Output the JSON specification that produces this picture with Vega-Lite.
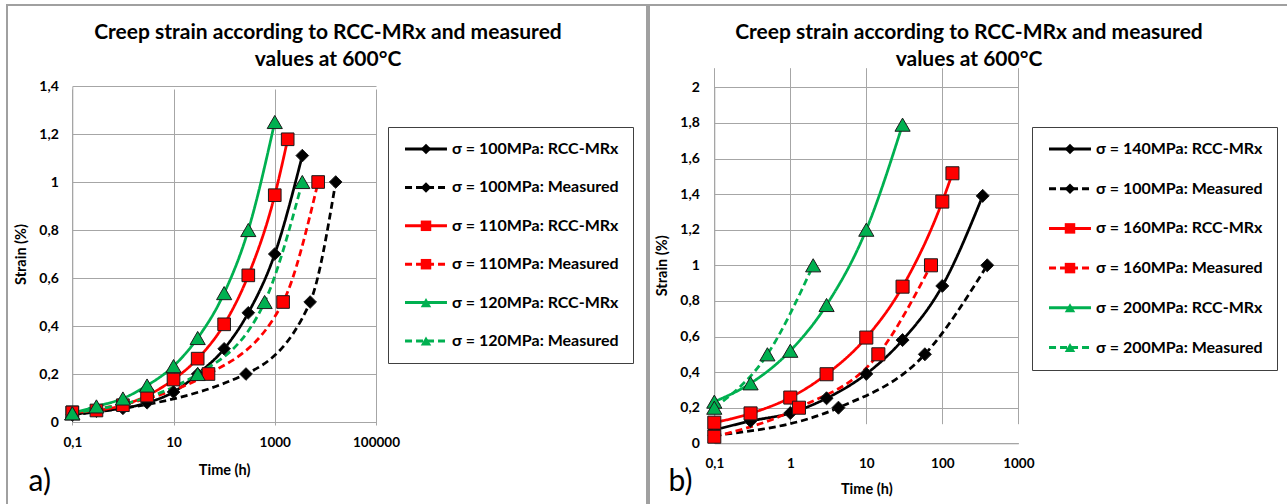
{
  "$schema": "https://vega.github.io/schema/vega-lite/v6.json",
  "autosize": {"type": "pad"},
  "padding": {"left": 6, "top": 4, "right": -3, "bottom": -3},
  "background": "white",
  "spacing": 0,
  "config": {
    "view": {"stroke": "#a0a0a0", "strokeWidth": 2},
    "font": "Lato"
  },
  "datasets": {
    "creep": [
      {"panel": "a", "k": 1, "series": "σ = 100MPa: RCC-MRx", "time": 0.1, "strain": 0.03},
      {"panel": "a", "k": 1, "series": "σ = 100MPa: RCC-MRx", "time": 0.3, "strain": 0.045},
      {"panel": "a", "k": 1, "series": "σ = 100MPa: RCC-MRx", "time": 1, "strain": 0.057},
      {"panel": "a", "k": 1, "series": "σ = 100MPa: RCC-MRx", "time": 3, "strain": 0.08},
      {"panel": "a", "k": 1, "series": "σ = 100MPa: RCC-MRx", "time": 10, "strain": 0.125},
      {"panel": "a", "k": 1, "series": "σ = 100MPa: RCC-MRx", "time": 30, "strain": 0.2},
      {"panel": "a", "k": 1, "series": "σ = 100MPa: RCC-MRx", "time": 100, "strain": 0.305},
      {"panel": "a", "k": 1, "series": "σ = 100MPa: RCC-MRx", "time": 300, "strain": 0.455},
      {"panel": "a", "k": 1, "series": "σ = 100MPa: RCC-MRx", "time": 1000, "strain": 0.7},
      {"panel": "a", "k": 1, "series": "σ = 100MPa: RCC-MRx", "time": 3500, "strain": 1.11},
      {"panel": "a", "k": 2, "series": "σ = 100MPa: Measured", "time": 0.1, "strain": 0.03},
      {"panel": "a", "k": 2, "series": "σ = 100MPa: Measured", "time": 270, "strain": 0.2},
      {"panel": "a", "k": 2, "series": "σ = 100MPa: Measured", "time": 5000, "strain": 0.5},
      {"panel": "a", "k": 2, "series": "σ = 100MPa: Measured", "time": 16000, "strain": 1.0},
      {"panel": "a", "k": 3, "series": "σ = 110MPa: RCC-MRx", "time": 0.1, "strain": 0.04},
      {"panel": "a", "k": 3, "series": "σ = 110MPa: RCC-MRx", "time": 0.3, "strain": 0.048},
      {"panel": "a", "k": 3, "series": "σ = 110MPa: RCC-MRx", "time": 1, "strain": 0.07},
      {"panel": "a", "k": 3, "series": "σ = 110MPa: RCC-MRx", "time": 3, "strain": 0.11},
      {"panel": "a", "k": 3, "series": "σ = 110MPa: RCC-MRx", "time": 10, "strain": 0.177},
      {"panel": "a", "k": 3, "series": "σ = 110MPa: RCC-MRx", "time": 30, "strain": 0.264},
      {"panel": "a", "k": 3, "series": "σ = 110MPa: RCC-MRx", "time": 100, "strain": 0.407},
      {"panel": "a", "k": 3, "series": "σ = 110MPa: RCC-MRx", "time": 300, "strain": 0.611},
      {"panel": "a", "k": 3, "series": "σ = 110MPa: RCC-MRx", "time": 1000, "strain": 0.945},
      {"panel": "a", "k": 3, "series": "σ = 110MPa: RCC-MRx", "time": 1800, "strain": 1.178},
      {"panel": "a", "k": 4, "series": "σ = 110MPa: Measured", "time": 0.1, "strain": 0.04},
      {"panel": "a", "k": 4, "series": "σ = 110MPa: Measured", "time": 49, "strain": 0.2},
      {"panel": "a", "k": 4, "series": "σ = 110MPa: Measured", "time": 1460, "strain": 0.5},
      {"panel": "a", "k": 4, "series": "σ = 110MPa: Measured", "time": 7200, "strain": 1.0},
      {"panel": "a", "k": 5, "series": "σ = 120MPa: RCC-MRx", "time": 0.1, "strain": 0.036},
      {"panel": "a", "k": 5, "series": "σ = 120MPa: RCC-MRx", "time": 0.3, "strain": 0.065},
      {"panel": "a", "k": 5, "series": "σ = 120MPa: RCC-MRx", "time": 1, "strain": 0.098},
      {"panel": "a", "k": 5, "series": "σ = 120MPa: RCC-MRx", "time": 3, "strain": 0.152},
      {"panel": "a", "k": 5, "series": "σ = 120MPa: RCC-MRx", "time": 10, "strain": 0.233},
      {"panel": "a", "k": 5, "series": "σ = 120MPa: RCC-MRx", "time": 30, "strain": 0.35},
      {"panel": "a", "k": 5, "series": "σ = 120MPa: RCC-MRx", "time": 100, "strain": 0.537},
      {"panel": "a", "k": 5, "series": "σ = 120MPa: RCC-MRx", "time": 300, "strain": 0.8},
      {"panel": "a", "k": 5, "series": "σ = 120MPa: RCC-MRx", "time": 1000, "strain": 1.25},
      {"panel": "a", "k": 6, "series": "σ = 120MPa: Measured", "time": 0.1, "strain": 0.036},
      {"panel": "a", "k": 6, "series": "σ = 120MPa: Measured", "time": 30, "strain": 0.2},
      {"panel": "a", "k": 6, "series": "σ = 120MPa: Measured", "time": 630, "strain": 0.5},
      {"panel": "a", "k": 6, "series": "σ = 120MPa: Measured", "time": 3500, "strain": 1.0},

      {"panel": "b", "k": 1, "series": "σ = 140MPa: RCC-MRx", "time": 0.1, "strain": 0.075},
      {"panel": "b", "k": 1, "series": "σ = 140MPa: RCC-MRx", "time": 0.3, "strain": 0.125},
      {"panel": "b", "k": 1, "series": "σ = 140MPa: RCC-MRx", "time": 1, "strain": 0.17},
      {"panel": "b", "k": 1, "series": "σ = 140MPa: RCC-MRx", "time": 3, "strain": 0.253},
      {"panel": "b", "k": 1, "series": "σ = 140MPa: RCC-MRx", "time": 10, "strain": 0.39},
      {"panel": "b", "k": 1, "series": "σ = 140MPa: RCC-MRx", "time": 30, "strain": 0.58},
      {"panel": "b", "k": 1, "series": "σ = 140MPa: RCC-MRx", "time": 100, "strain": 0.884},
      {"panel": "b", "k": 1, "series": "σ = 140MPa: RCC-MRx", "time": 340, "strain": 1.39},
      {"panel": "b", "k": 2, "series": "σ = 100MPa: Measured", "time": 0.1, "strain": 0.045},
      {"panel": "b", "k": 2, "series": "σ = 100MPa: Measured", "time": 4.3, "strain": 0.2},
      {"panel": "b", "k": 2, "series": "σ = 100MPa: Measured", "time": 59, "strain": 0.5},
      {"panel": "b", "k": 2, "series": "σ = 100MPa: Measured", "time": 390, "strain": 1.0},
      {"panel": "b", "k": 3, "series": "σ = 160MPa: RCC-MRx", "time": 0.1, "strain": 0.116},
      {"panel": "b", "k": 3, "series": "σ = 160MPa: RCC-MRx", "time": 0.3, "strain": 0.168},
      {"panel": "b", "k": 3, "series": "σ = 160MPa: RCC-MRx", "time": 1, "strain": 0.257},
      {"panel": "b", "k": 3, "series": "σ = 160MPa: RCC-MRx", "time": 3, "strain": 0.388},
      {"panel": "b", "k": 3, "series": "σ = 160MPa: RCC-MRx", "time": 10, "strain": 0.594},
      {"panel": "b", "k": 3, "series": "σ = 160MPa: RCC-MRx", "time": 30, "strain": 0.88},
      {"panel": "b", "k": 3, "series": "σ = 160MPa: RCC-MRx", "time": 100, "strain": 1.358},
      {"panel": "b", "k": 3, "series": "σ = 160MPa: RCC-MRx", "time": 136, "strain": 1.517},
      {"panel": "b", "k": 4, "series": "σ = 160MPa: Measured", "time": 0.1, "strain": 0.037},
      {"panel": "b", "k": 4, "series": "σ = 160MPa: Measured", "time": 1.3, "strain": 0.2},
      {"panel": "b", "k": 4, "series": "σ = 160MPa: Measured", "time": 14.4, "strain": 0.5},
      {"panel": "b", "k": 4, "series": "σ = 160MPa: Measured", "time": 71, "strain": 1.0},
      {"panel": "b", "k": 5, "series": "σ = 200MPa: RCC-MRx", "time": 0.1, "strain": 0.234},
      {"panel": "b", "k": 5, "series": "σ = 200MPa: RCC-MRx", "time": 0.3, "strain": 0.337},
      {"panel": "b", "k": 5, "series": "σ = 200MPa: RCC-MRx", "time": 1, "strain": 0.52},
      {"panel": "b", "k": 5, "series": "σ = 200MPa: RCC-MRx", "time": 3, "strain": 0.777},
      {"panel": "b", "k": 5, "series": "σ = 200MPa: RCC-MRx", "time": 10, "strain": 1.2},
      {"panel": "b", "k": 5, "series": "σ = 200MPa: RCC-MRx", "time": 30, "strain": 1.79},
      {"panel": "b", "k": 6, "series": "σ = 200MPa: Measured", "time": 0.1, "strain": 0.2},
      {"panel": "b", "k": 6, "series": "σ = 200MPa: Measured", "time": 0.5, "strain": 0.5},
      {"panel": "b", "k": 6, "series": "σ = 200MPa: Measured", "time": 2, "strain": 1.0}
    ]
  },
  "hconcat": [
    {
      "width": 640,
      "height": 501,
      "data": {"name": "creep"},
      "transform": [{"filter": "datum.panel === 'a'"}],
      "title": {
        "text": ["Creep strain according to RCC-MRx and measured", "values at 600°C"],
        "anchor": "middle", "frame": "group", "font": "Lato", "fontSize": 21, "fontWeight": "bold",
        "color": "#000000", "lineHeight": 27, "baseline": "alphabetic", "offset": -82, "dx": 1
      },
      "resolve": {"axis": {"x": "independent"}},
      "layer": [
        {
          "mark": {"type": "line", "interpolate": "monotone", "strokeWidth": 2.75},
          "encoding": {
            "x": {
              "field": "time", "type": "quantitative",
              "scale": {"type": "log", "domain": [0.1, 100000], "range": [65.3, 369], "nice": false},
              "axis": {
                "orient": "bottom", "offset": -84, "values": [0.1, 10, 1000, 100000],
                "labelExpr": "replace(format(datum.value, '~r'), '.', ',')",
                "title": "Time (h)", "titleFont": "Lato", "titleFontSize": 14.5, "titleFontWeight": "bold", "titleColor": "#000000", "titlePadding": 15,
                "labelFont": "Lato", "labelFontSize": 13.5, "labelFontWeight": "bold", "labelColor": "#000000", "labelPadding": 13,
                "ticks": false, "domain": true, "domainColor": "#a6a6a6", "domainWidth": 1,
                "grid": true, "gridColor": "#a6a6a6", "gridWidth": 1, "labelFlush": false, "labelOverlap": false
              }
            },
            "y": {
              "field": "strain", "type": "quantitative",
              "scale": {"domain": [0, 1.4], "range": [417, 81], "nice": false, "zero": false},
              "axis": {
                "orient": "left", "offset": -65.3, "values": [0, 0.2, 0.4, 0.6, 0.8, 1, 1.2, 1.4],
                "labelExpr": "replace(format(datum.value, '~r'), '.', ',')",
                "title": "Strain (%)", "titleFont": "Lato", "titleFontSize": 14.5, "titleFontWeight": "bold", "titleColor": "#000000", "titlePadding": 10,
                "labelFont": "Lato", "labelFontSize": 14, "labelFontWeight": "bold", "labelColor": "#000000", "labelPadding": 14,
                "ticks": false, "domain": true, "domainColor": "#a6a6a6", "domainWidth": 1,
                "grid": true, "gridColor": "#a6a6a6", "gridWidth": 1, "labelFlush": false, "labelOverlap": false
              }
            },
            "stroke": {
              "field": "series", "type": "nominal",
              "scale": {
                "domain": ["σ = 100MPa: RCC-MRx", "σ = 100MPa: Measured", "σ = 110MPa: RCC-MRx", "σ = 110MPa: Measured", "σ = 120MPa: RCC-MRx", "σ = 120MPa: Measured"],
                "range": ["#000000", "#000000", "#ff0000", "#ff0000", "#00b050", "#00b050"]
              },
              "legend": {
                "title": null, "orient": "none", "legendX": 381, "legendY": 122, "padding": 14,
                "strokeColor": "#404040", "symbolType": "M-4,0H4", "symbolSize": 110,
                "symbolStrokeWidth": 3, "symbolOffset": 16, "labelOffset": 18, "labelFont": "Lato",
                "labelFontSize": 16, "labelFontWeight": "bold", "labelColor": "#000000", "rowPadding": 22.4,
                "labelLimit": 400, "zindex": 1
              }
            },
            "strokeDash": {
              "field": "series", "type": "nominal",
              "scale": {
                "domain": ["σ = 100MPa: RCC-MRx", "σ = 100MPa: Measured", "σ = 110MPa: RCC-MRx", "σ = 110MPa: Measured", "σ = 120MPa: RCC-MRx", "σ = 120MPa: Measured"],
                "range": [[1, 0], [7, 4], [1, 0], [7, 4], [1, 0], [7, 4]]
              },
              "legend": {
                "title": null, "orient": "none", "legendX": 381, "legendY": 122, "padding": 14,
                "strokeColor": "#404040", "symbolType": "M-4,0H4", "symbolSize": 110,
                "symbolStrokeWidth": 3, "symbolOffset": 16, "labelOffset": 18, "labelFont": "Lato",
                "labelFontSize": 16, "labelFontWeight": "bold", "labelColor": "#000000", "rowPadding": 22.4,
                "labelLimit": 400, "zindex": 1
              }
            }
          }
        },
        {
          "mark": {"type": "point", "filled": true, "stroke": "#1a1a1a", "strokeWidth": 1, "opacity": 1},
          "encoding": {
            "x": {
              "field": "time", "type": "quantitative",
              "axis": {
                "orient": "top", "labels": false, "ticks": false, "domain": false, "grid": false,
                "title": "a)", "titleX": 21, "titleY": 485, "titleAngle": 0, "titleAlign": "left", "titleBaseline": "alphabetic",
                "titleFont": "Lato", "titleFontSize": 30, "titleFontWeight": "normal", "titleColor": "#000000"
              }
            },
            "y": {"field": "strain", "type": "quantitative"},
            "size": {"condition": {"test": "datum.k >= 5", "value": 230}, "value": 160},
            "fill": {
              "field": "series", "type": "nominal", "sort": {"field": "k", "op": "min"},
              "scale": {"range": ["#000000", "#000000", "#ff0000", "#ff0000", "#00b050", "#00b050"]},
              "legend": {
                "title": null, "orient": "none", "legendX": 381, "legendY": 122, "padding": 14,
                "symbolSize": 110, "symbolStrokeColor": "#1a1a1a", "symbolStrokeWidth": 1, "symbolOffset": 16, "labelOffset": 18,
                "labelFont": "Lato", "labelFontSize": 16, "labelFontWeight": "bold", "labelOpacity": 0, "rowPadding": 22.4,
                "labelLimit": 400, "zindex": 2
              }
            },
            "shape": {
              "field": "series", "type": "nominal", "sort": {"field": "k", "op": "min"},
              "scale": {"range": ["diamond", "diamond", "square", "square", "triangle-up", "triangle-up"]},
              "legend": {
                "title": null, "orient": "none", "legendX": 381, "legendY": 122, "padding": 14,
                "symbolSize": 110, "symbolStrokeColor": "#1a1a1a", "symbolStrokeWidth": 1, "symbolOffset": 16, "labelOffset": 18,
                "labelFont": "Lato", "labelFontSize": 16, "labelFontWeight": "bold", "labelOpacity": 0, "rowPadding": 22.4,
                "labelLimit": 400, "zindex": 2
              }
            }
          }
        }
      ]
    },
    {
      "width": 640,
      "height": 501,
      "data": {"name": "creep"},
      "transform": [{"filter": "datum.panel === 'b'"}],
      "title": {
        "text": ["Creep strain according to RCC-MRx and measured", "values at 600°C"],
        "anchor": "middle", "frame": "group", "font": "Lato", "fontSize": 21, "fontWeight": "bold",
        "color": "#000000", "lineHeight": 27, "baseline": "alphabetic", "offset": -82
      },
      "resolve": {"axis": {"x": "independent"}},
      "layer": [
        {
          "mark": {"type": "line", "interpolate": "monotone", "strokeWidth": 2.75},
          "encoding": {
            "x": {
              "field": "time", "type": "quantitative",
              "scale": {"type": "log", "domain": [0.1, 1000], "range": [65.3, 369.3], "nice": false},
              "axis": {
                "orient": "bottom", "offset": -62.7, "values": [0.1, 1, 10, 100, 1000],
                "labelExpr": "replace(format(datum.value, '~r'), '.', ',')",
                "title": "Time (h)", "titleFont": "Lato", "titleFontSize": 14.5, "titleFontWeight": "bold", "titleColor": "#000000", "titlePadding": 13,
                "labelFont": "Lato", "labelFontSize": 13.5, "labelFontWeight": "bold", "labelColor": "#000000", "labelPadding": 13,
                "ticks": false, "domain": true, "domainColor": "#a6a6a6", "domainWidth": 1,
                "grid": true, "gridColor": "#a6a6a6", "gridWidth": 1, "labelFlush": false, "labelOverlap": false
              }
            },
            "y": {
              "field": "strain", "type": "quantitative",
              "scale": {"domain": [0, 2], "range": [438.3, 82.3], "nice": false, "zero": false},
              "axis": {
                "orient": "left", "offset": -65.3, "values": [0, 0.2, 0.4, 0.6, 0.8, 1, 1.2, 1.4, 1.6, 1.8, 2],
                "labelExpr": "replace(format(datum.value, '~r'), '.', ',')",
                "title": "Strain (%)", "titleFont": "Lato", "titleFontSize": 14.5, "titleFontWeight": "bold", "titleColor": "#000000", "titlePadding": 10,
                "labelFont": "Lato", "labelFontSize": 14, "labelFontWeight": "bold", "labelColor": "#000000", "labelPadding": 15,
                "ticks": false, "domain": true, "domainColor": "#a6a6a6", "domainWidth": 1,
                "grid": true, "gridColor": "#a6a6a6", "gridWidth": 1, "labelFlush": false, "labelOverlap": false
              }
            },
            "stroke": {
              "field": "series", "type": "nominal",
              "scale": {
                "domain": ["σ = 140MPa: RCC-MRx", "σ = 100MPa: Measured", "σ = 160MPa: RCC-MRx", "σ = 160MPa: Measured", "σ = 200MPa: RCC-MRx", "σ = 200MPa: Measured"],
                "range": ["#000000", "#000000", "#ff0000", "#ff0000", "#00b050", "#00b050"]
              },
              "legend": {
                "title": null, "orient": "none", "legendX": 383, "legendY": 122, "padding": 14,
                "strokeColor": "#404040", "symbolType": "M-4,0H4", "symbolSize": 110,
                "symbolStrokeWidth": 3, "symbolOffset": 16, "labelOffset": 18, "labelFont": "Lato",
                "labelFontSize": 16, "labelFontWeight": "bold", "labelColor": "#000000", "rowPadding": 23.7,
                "labelLimit": 400, "zindex": 1
              }
            },
            "strokeDash": {
              "field": "series", "type": "nominal",
              "scale": {
                "domain": ["σ = 140MPa: RCC-MRx", "σ = 100MPa: Measured", "σ = 160MPa: RCC-MRx", "σ = 160MPa: Measured", "σ = 200MPa: RCC-MRx", "σ = 200MPa: Measured"],
                "range": [[1, 0], [7, 4], [1, 0], [7, 4], [1, 0], [7, 4]]
              },
              "legend": {
                "title": null, "orient": "none", "legendX": 383, "legendY": 122, "padding": 14,
                "strokeColor": "#404040", "symbolType": "M-4,0H4", "symbolSize": 110,
                "symbolStrokeWidth": 3, "symbolOffset": 16, "labelOffset": 18, "labelFont": "Lato",
                "labelFontSize": 16, "labelFontWeight": "bold", "labelColor": "#000000", "rowPadding": 23.7,
                "labelLimit": 400, "zindex": 1
              }
            }
          }
        },
        {
          "mark": {"type": "point", "filled": true, "stroke": "#1a1a1a", "strokeWidth": 1, "opacity": 1},
          "encoding": {
            "x": {
              "field": "time", "type": "quantitative",
              "axis": {
                "orient": "top", "labels": false, "ticks": false, "domain": false, "grid": false,
                "title": "b)", "titleX": 19, "titleY": 485, "titleAngle": 0, "titleAlign": "left", "titleBaseline": "alphabetic",
                "titleFont": "Lato", "titleFontSize": 30, "titleFontWeight": "normal", "titleColor": "#000000"
              }
            },
            "y": {"field": "strain", "type": "quantitative"},
            "size": {"condition": {"test": "datum.k >= 5", "value": 230}, "value": 170},
            "fill": {
              "field": "series", "type": "nominal", "sort": {"field": "k", "op": "min"},
              "scale": {"range": ["#000000", "#000000", "#ff0000", "#ff0000", "#00b050", "#00b050"]},
              "legend": {
                "title": null, "orient": "none", "legendX": 383, "legendY": 122, "padding": 14,
                "symbolSize": 110, "symbolStrokeColor": "#1a1a1a", "symbolStrokeWidth": 1, "symbolOffset": 16, "labelOffset": 18,
                "labelFont": "Lato", "labelFontSize": 16, "labelFontWeight": "bold", "labelOpacity": 0, "rowPadding": 23.7,
                "labelLimit": 400, "zindex": 2
              }
            },
            "shape": {
              "field": "series", "type": "nominal", "sort": {"field": "k", "op": "min"},
              "scale": {"range": ["diamond", "diamond", "square", "square", "triangle-up", "triangle-up"]},
              "legend": {
                "title": null, "orient": "none", "legendX": 383, "legendY": 122, "padding": 14,
                "symbolSize": 110, "symbolStrokeColor": "#1a1a1a", "symbolStrokeWidth": 1, "symbolOffset": 16, "labelOffset": 18,
                "labelFont": "Lato", "labelFontSize": 16, "labelFontWeight": "bold", "labelOpacity": 0, "rowPadding": 23.7,
                "labelLimit": 400, "zindex": 2
              }
            }
          }
        }
      ]
    }
  ],
  "resolve": {
    "scale": {"stroke": "independent", "strokeDash": "independent", "fill": "independent", "shape": "independent"},
    "legend": {"stroke": "independent", "strokeDash": "independent", "fill": "independent", "shape": "independent"}
  }
}
